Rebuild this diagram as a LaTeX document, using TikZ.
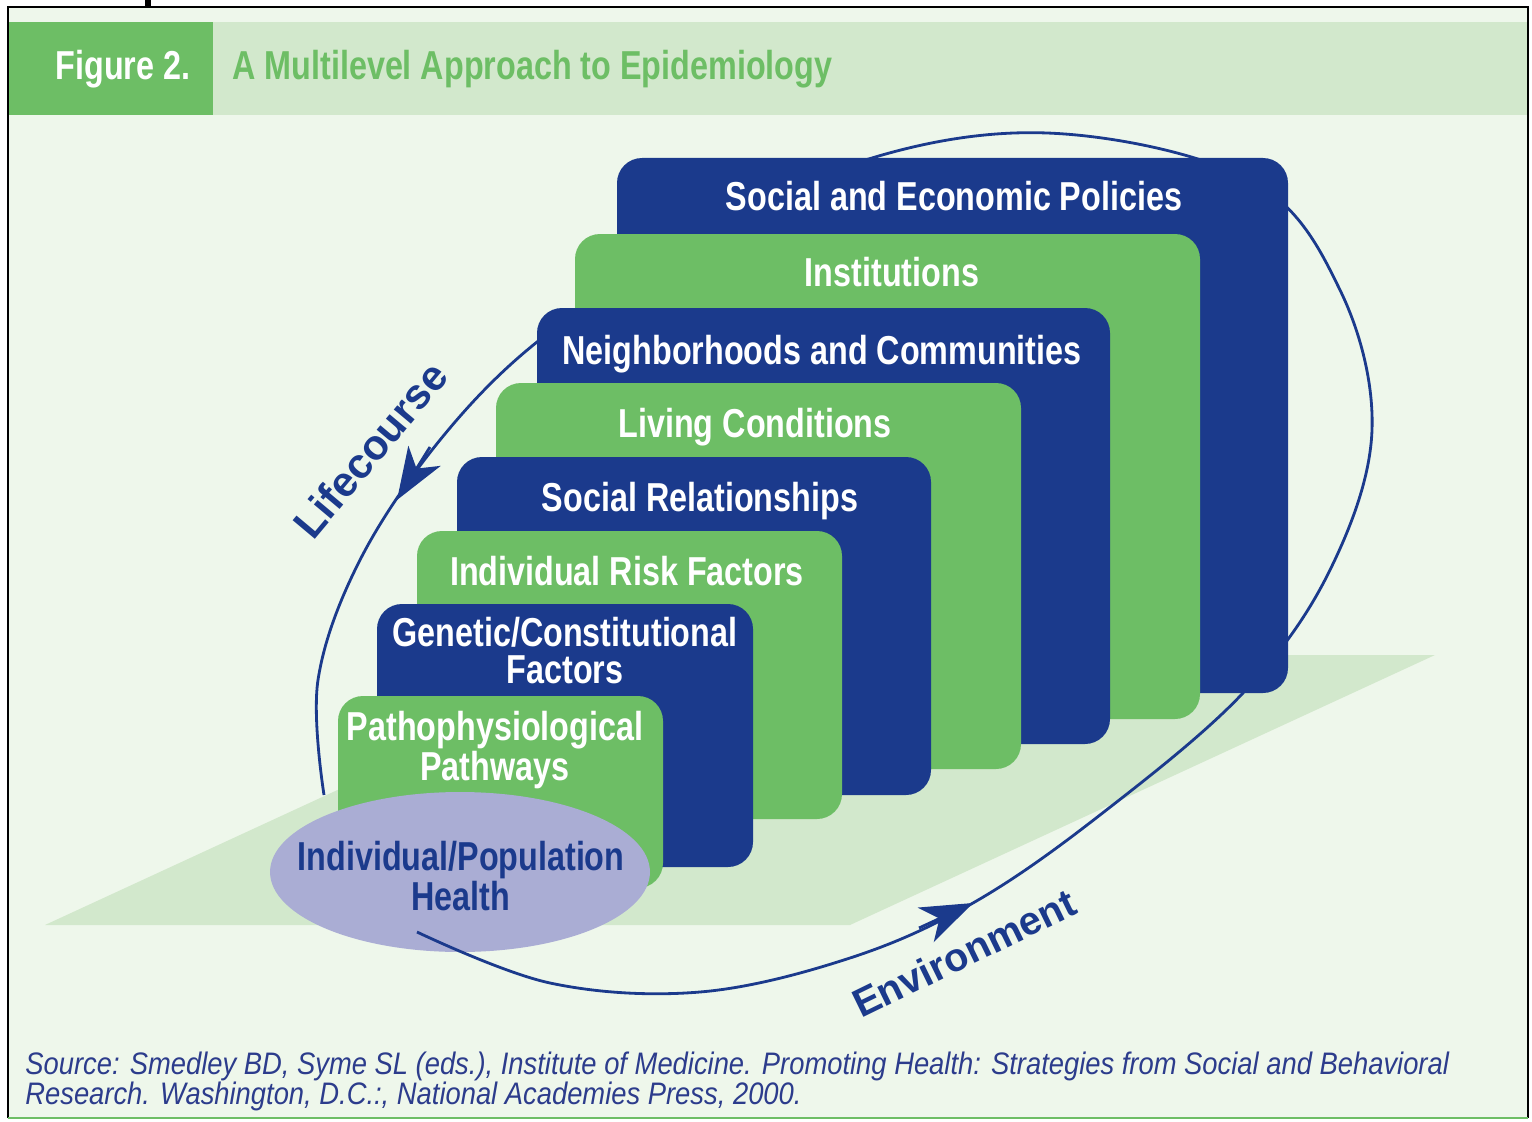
\documentclass[tikz,border=0pt]{standalone}
\usepackage{fontspec}
\setmainfont{Liberation Sans}
\newfontfamily\condfont[FakeStretch=0.8]{Liberation Sans}
\newfontfamily\srcfont[FakeStretch=0.88]{Liberation Sans}
\usetikzlibrary{arrows.meta,shapes.geometric}
\definecolor{bgmint}{RGB}{238,247,235}
\definecolor{palegreen}{RGB}{210,232,204}
\definecolor{levelgreen}{RGB}{109,190,101}
\definecolor{levelblue}{RGB}{27,58,140}
\definecolor{lavender}{RGB}{170,173,212}
\definecolor{srcblue}{RGB}{44,60,140}

\begin{document}
\begin{tikzpicture}[x=0.02cm,y=-0.02cm,
    boxlabel/.style={text=white,font=\condfont\bfseries\fontsize{23pt}{21pt}\selectfont,anchor=base,align=center,inner sep=0pt},
    loopline/.style={draw=levelblue,line width=1.6pt},
    tiparrow/.style={levelblue,line width=1.6pt,-{Stealth[length=1.04cm,width=0.76cm,inset=0.3cm]}},
    arclabel/.style={text=levelblue,inner sep=0pt}]
  \useasboundingbox (0,0) rectangle (1532,1122);
  \fill[white] (0,0) rectangle (1532,1122);
  \fill[bgmint] (8,8) rectangle (1528,1118);
  % header band
  \fill[palegreen] (8,22) rectangle (1528,115);
  \fill[levelgreen] (8,22) rectangle (213,115);
  \node[boxlabel] (figlabel) at (123,80) {Figure 2.};
  \node[boxlabel,anchor=base west,text=levelgreen] (title) at (232,80) {A Multilevel Approach to Epidemiology};
  % frame
  \draw[black,line width=1.6pt] (8,1118) -- (8,7) -- (1528,7) -- (1528,1118);
  \fill[black] (145,0) rectangle (151,7);
  \draw[levelgreen,line width=1.6pt] (8,1118) -- (1528,1118);
  % ground plane
  \fill[palegreen] (45,925) -- (850,925) -- (1435,655) -- (630,655) -- cycle;
  % lifecourse / environment loop, behind the levels
  \path[save path=\envloop] plot[smooth,tension=0.6] coordinates {(417,932) (550,983) (700,992) (850,958) (973,903) (1100,815) (1243,693) (1330,570) (1372,430) (1340,290) (1250,180) (1047,133) (850,165) (662,262) (537,342) (440,440) (360,560) (318,680) (324,795)};
  \draw[loopline,use path=\envloop];
  % levels, back to front
  \fill[levelblue,rounded corners=0.5cm] (617,158) rectangle (1288,693);
  \fill[levelgreen,rounded corners=0.5cm] (575,234) rectangle (1200,719);
  \fill[levelblue,rounded corners=0.5cm] (537,308) rectangle (1110,744);
  \fill[levelgreen,rounded corners=0.5cm] (496,383) rectangle (1021,769);
  \fill[levelblue,rounded corners=0.5cm] (457,457) rectangle (931,795);
  \fill[levelgreen,rounded corners=0.5cm] (417,531) rectangle (842,819);
  \fill[levelblue,rounded corners=0.5cm] (377,604) rectangle (753,867);
  \fill[levelgreen,rounded corners=0.5cm] (338,696) rectangle (663,888);
  \node[boxlabel] (policies) at (954,211) {Social and Economic Policies};
  \node[boxlabel] (institutions) at (892,286) {Institutions};
  \node[boxlabel] (neighborhoods) at (822,364) {Neighborhoods and Communities};
  \node[boxlabel] (living) at (755,437) {Living Conditions};
  \node[boxlabel] (relationships) at (700,511) {Social Relationships};
  \node[boxlabel] (riskfactors) at (627,585) {Individual Risk Factors};
  \node[boxlabel] (genetic) at (565,683) {Genetic/Constitutional\\Factors};
  \node[boxlabel] (pathways) at (495,780) {Pathophysiological\\Pathways};
  % outcome
  \node[ellipse,fill=lavender,minimum width=7.6cm,minimum height=3.2cm,inner sep=0pt] (healthshape) at (460,872) {};
  \node[boxlabel,text=levelblue] (health) at (461,910) {Individual/Population\\Health};
  \begin{scope}
    \clip (460,872) ellipse [x radius=190,y radius=80];
    \draw[loopline,use path=\envloop];
  \end{scope}
  % arrow heads
  \coordinate (lcfrom) at (430,447);
  \coordinate (lctip) at (397,500);
  \coordinate (envfrom) at (919,928);
  \coordinate (envtip) at (973,903);
  \draw[tiparrow] (lcfrom) -- (lctip);
  \draw[tiparrow] (envfrom) -- (envtip);
  \node[arclabel,rotate=50,font=\bfseries\fontsize{24pt}{24pt}\selectfont] (lifecourse) at (370,450) {Lifecourse};
  \node[arclabel,rotate=26,font=\bfseries\fontsize{22.6pt}{24pt}\selectfont] (environment) at (964,953) {Environment};
  % source
  \node[anchor=base west,align=left,inner sep=0pt,text=srcblue,font=\srcfont\itshape\fontsize{17.7pt}{17pt}\selectfont] (source) at (25,1104) {Source: Smedley BD, Syme SL (eds.), Institute of Medicine. Promoting Health: Strategies from Social and Behavioral\\Research. Washington, D.C.:, National Academies Press, 2000.};
\end{tikzpicture}
\end{document}
